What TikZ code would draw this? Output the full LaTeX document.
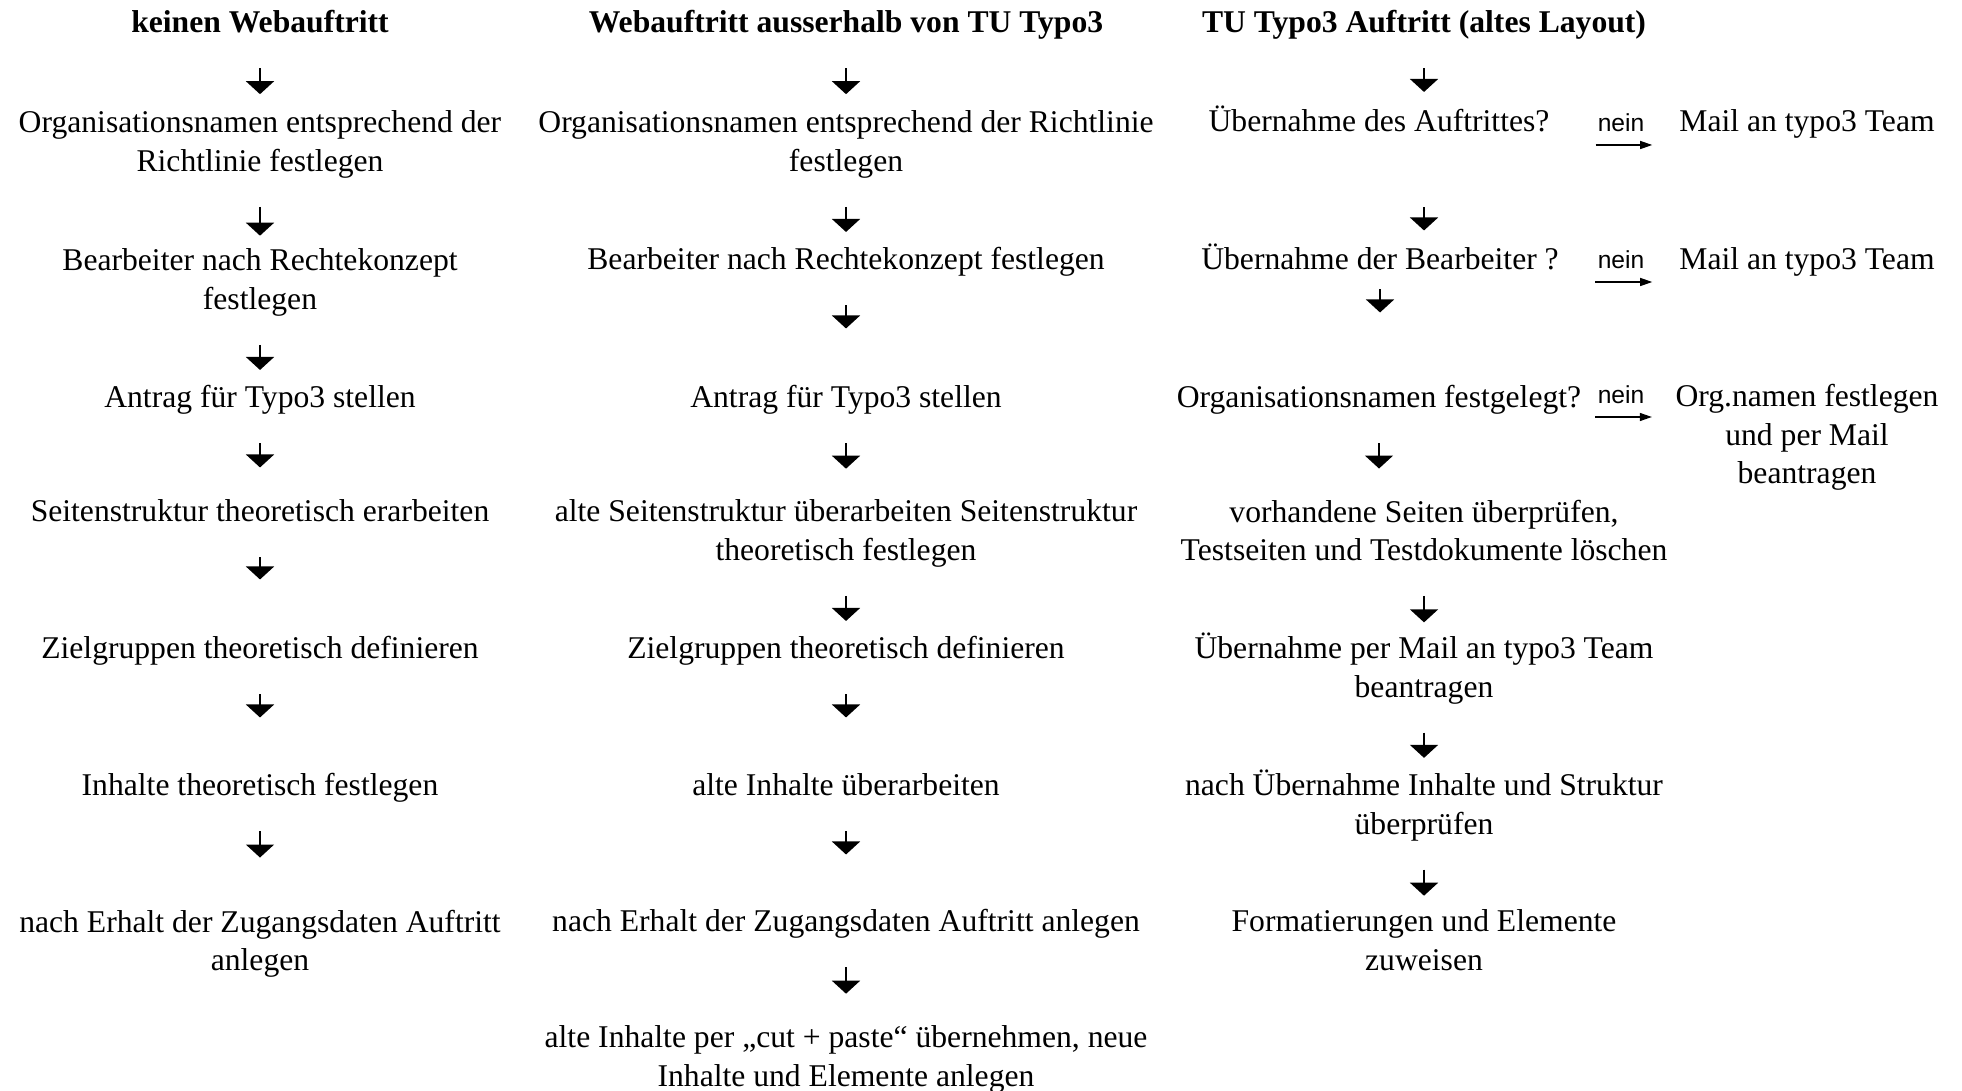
\documentclass[tikz,border=0pt]{standalone}
\usepackage{fontspec}
\setmainfont{Liberation Serif}
\setsansfont{Liberation Sans}
\usetikzlibrary{arrows.meta}

\begin{document}
\begin{tikzpicture}[x=0.1mm,y=-0.1mm,
    schritt/.style={align=center,inner sep=0pt,font=\fontsize{9}{11}\selectfont,
        execute at begin node=\strut,execute at end node=\strut},
    kopf/.style={schritt,font=\fontsize{9}{11}\selectfont\bfseries},
    neintext/.style={inner xsep=0pt,inner ysep=1.3mm,text depth=0pt,anchor=south,
        font=\fontsize{7}{8}\selectfont\sffamily},
    pfeil/.style={-{Triangle[width=2.8mm,length=1.3mm]},line width=0.5pt,
        shorten <=2.3mm,shorten >=#1},
    neinpfeil/.style={-{Triangle[width=0.8mm,length=1.2mm]},line width=0.35pt}]
    \useasboundingbox (0,0) rectangle (1962,1091);

    % keinen Webauftritt
    \node at (260,25) [kopf] (h1) {keinen Webauftritt};
    \node at (260,147) [schritt] (a1) {Organisationsnamen entsprechend der\\Richtlinie festlegen};
    \node at (260,285) [schritt] (a2) {Bearbeiter nach Rechtekonzept\\festlegen};
    \node at (260,400) [schritt] (a3) {Antrag für Typo3 stellen};
    \node at (260,514) [schritt] (a4) {Seitenstruktur theoretisch erarbeiten};
    \node at (260,651) [schritt] (a5) {Zielgruppen theoretisch definieren};
    \node at (260,788) [schritt] (a6) {Inhalte theoretisch festlegen};
    \node at (260,946) [schritt] (a7) {nach Erhalt der Zugangsdaten Auftritt\\anlegen};

    \draw[pfeil=1.6mm] (h1.south) -- (h1.south |- a1.north);
    \draw[pfeil=1.25mm] (a1.south) -- (a1.south |- a2.north);
    \draw[pfeil=1.0mm] (a2.south) -- (a2.south |- a3.north);
    \draw[pfeil=2.65mm] (a3.south) -- (a3.south |- a4.north);
    \draw[pfeil=5.15mm] (a4.south) -- (a4.south |- a5.north);
    \draw[pfeil=5.05mm] (a5.south) -- (a5.south |- a6.north);
    \draw[pfeil=5.15mm] (a6.south) -- (a6.south |- a7.north);

    % Webauftritt ausserhalb
    \node at (846,25) [kopf] (h2) {Webauftritt ausserhalb von TU Typo3};
    \node at (846,147) [schritt] (b1) {Organisationsnamen entsprechend der Richtlinie\\festlegen};
    \node at (846,262) [schritt] (b2) {Bearbeiter nach Rechtekonzept festlegen};
    \node at (846,400) [schritt] (b3) {Antrag für Typo3 stellen};
    \node at (846,536) [schritt] (b4) {alte Seitenstruktur überarbeiten Seitenstruktur\\theoretisch festlegen};
    \node at (846,651) [schritt] (b5) {Zielgruppen theoretisch definieren};
    \node at (846,788) [schritt] (b6) {alte Inhalte überarbeiten};
    \node at (846,924) [schritt] (b7) {nach Erhalt der Zugangsdaten Auftritt anlegen};
    \node at (846,1062) [schritt] (b8) {alte Inhalte per „cut + paste“ übernehmen, neue\\Inhalte und Elemente anlegen};

    \draw[pfeil=1.6mm] (h2.south) -- (h2.south |- b1.north);
    \draw[pfeil=1.0mm] (b1.south) -- (b1.south |- b2.north);
    \draw[pfeil=5.15mm] (b2.south) -- (b2.south |- b3.north);
    \draw[pfeil=3.05mm] (b3.south) -- (b3.south |- b4.north);
    \draw[pfeil=1.0mm] (b4.south) -- (b4.south |- b5.north);
    \draw[pfeil=5.05mm] (b5.south) -- (b5.south |- b6.north);
    \draw[pfeil=4.95mm] (b6.south) -- (b6.south |- b7.north);
    \draw[pfeil=3.15mm] (b7.south) -- (b7.south |- b8.north);

    % TU Typo3 Auftritt
    \node at (1424,25) [kopf] (h3) {TU Typo3 Auftritt (altes Layout)};
    \node at (1379,124) [schritt] (c1) {Übernahme des Auftrittes?};
    \node at (1380,262) [schritt] (c2) {Übernahme der Bearbeiter ?};
    \node at (1379,400) [schritt] (c3) {Organisationsnamen festgelegt?};
    \node at (1424,536) [schritt] (c4) {vorhandene Seiten überprüfen,\\Testseiten und Testdokumente löschen};
    \node at (1424,671) [schritt] (c5) {Übernahme per Mail an typo3 Team\\beantragen};
    \node at (1424,808) [schritt] (c6) {nach Übernahme Inhalte und Struktur\\überprüfen};
    \node at (1424,946) [schritt] (c7) {Formatierungen und Elemente\\zuweisen};

    \draw[pfeil=1.2mm] (h3.south) -- (h3.south |- c1.north);
    \draw[pfeil=1.15mm,shorten <=6.3mm] (c1.south -| h3.south) -- (c2.north -| h3.south);
    \draw[pfeil=6.75mm,shorten <=0.7mm] (c2.south) -- (c2.south |- c3.north);
    \draw[pfeil=3.05mm] (c3.south) -- (c3.south |- c4.north);
    \draw[pfeil=1.0mm] (c4.south) -- (c4.south |- c5.north);
    \draw[pfeil=1.15mm] (c5.south) -- (c5.south |- c6.north);
    \draw[pfeil=1.35mm] (c6.south) -- (c6.south |- c7.north);

    % nein
    \node at (1807,124) [schritt] (d1) {Mail an typo3 Team};
    \node at (1807,262) [schritt] (d2) {Mail an typo3 Team};
    \node at (1807,440) [schritt] (d3) {Org.namen festlegen\\und per Mail\\beantragen};
    \node at (1621,145) [neintext] (n1) {nein};
    \node at (1621,282) [neintext] (n2) {nein};
    \node at (1621,417) [neintext] (n3) {nein};

    \draw[neinpfeil,shorten <=4.55mm,shorten >=2.65mm] (c1.east |- n1.south) -- (d1.west |- n1.south);
    \draw[neinpfeil,shorten <=3.6mm,shorten >=2.65mm] (c2.east |- n2.south) -- (d2.west |- n2.south);
    \draw[neinpfeil,shorten <=1.35mm,shorten >=2.3mm] (c3.east |- n3.south) -- (d3.west |- n3.south);
\end{tikzpicture}
\end{document}
